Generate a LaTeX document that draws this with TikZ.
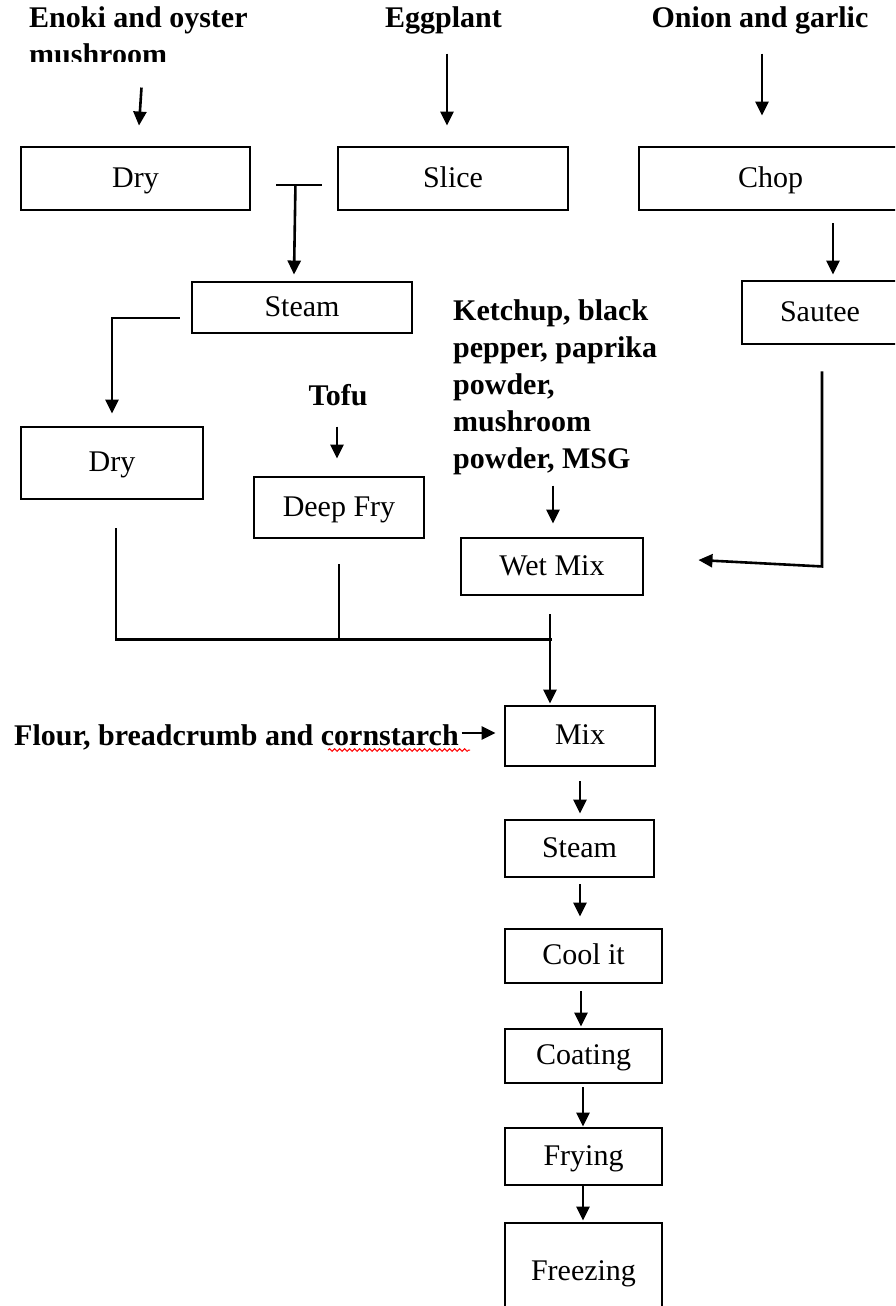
\documentclass[tikz,border=0pt]{standalone}
\usepackage{fontspec}
\setmainfont{Liberation Serif}
\usetikzlibrary{arrows.meta,calc,decorations.pathmorphing}
\begin{document}
\begin{tikzpicture}[x=1pt,y=-1pt,
  box/.style={draw, line width=2.9pt, inner sep=0pt, text height=21pt, text depth=4pt,
    font=\fontsize{30}{37}\selectfont},
  lbl/.style={inner sep=0pt, font=\fontsize{30}{37}\selectfont\bfseries, align=left},
  ln/.style={line width=2.6pt},
  arr/.style={ln, -{Triangle[length=14pt,width=13pt]}},
]
\useasboundingbox (0,0) rectangle (895,1306);
\clip (0,0) rectangle (895,1306);

% boxes
\node[box, minimum width=229pt, minimum height=63pt] (dry1) at (135.5,178.5) {Dry};
\node[box, minimum width=230pt, minimum height=63pt] (slice) at (453,178.5) {Slice};
\node[box, minimum width=263pt, minimum height=63pt] (chop) at (770.5,178.5) {Chop};
\node[box, minimum width=156pt, minimum height=63pt] (sautee) at (820,312.5) {Sautee};
\node[box, minimum width=220pt, minimum height=51pt] (steam1) at (302,307.5) {Steam};
\node[box, minimum width=182pt, minimum height=72pt] (dry2) at (112,463) {Dry};
\node[box, minimum width=170pt, minimum height=61pt] (deepfry) at (339,507.5) {Deep Fry};
\node[box, minimum width=182pt, minimum height=57pt] (wetmix) at (552,566.5) {Wet Mix};
\node[box, minimum width=150pt, minimum height=60pt] (mix) at (580,736) {Mix};
\node[box, minimum width=149pt, minimum height=57pt] (steam2) at (579.5,848.5) {Steam};
\node[box, minimum width=157pt, minimum height=54pt] (coolit) at (583.5,956) {Cool it};
\node[box, minimum width=157pt, minimum height=54pt] (coating) at (583.5,1056) {Coating};
\node[box, minimum width=157pt, minimum height=57pt] (frying) at (583.5,1156.5) {Frying};
\node[box, minimum width=157pt, minimum height=98pt] (freezing) at (583.5,1272) {Freezing};

% labels
\begin{scope}
\clip (0,0) rectangle (330,62);
\node[lbl, anchor=base west] (enoki) at (29,65) {Enoki and oyster\\mushroom};
\end{scope}
\node[lbl, anchor=base] (eggplant) at (443.5,28) {Eggplant};
\node[lbl, anchor=base] (onion) at (760,28) {Onion and garlic};
\node[lbl, anchor=base] (tofu) at (338,405) {Tofu};
\node[lbl, anchor=base west] (ketchup) at (453,468) {Ketchup, black\\pepper, paprika\\powder,\\mushroom\\powder, MSG};
\node[lbl, anchor=base west] (flour) at (14,745) {Flour, breadcrumb and cornstarch};
\draw[red, line width=1pt, decorate, decoration={snake, segment length=5pt, amplitude=1.3pt}]
  (328,750) -- (470,750);

% connectors
\draw[arr] ($(dry1.north)+(6,-58)$) -- ($(dry1.north)+(3.5,-20)$);
\draw[arr] ($(slice.north)+(-6,-92)$) -- ($(slice.north)+(-6,-20)$);
\draw[arr] ($(chop.north)+(-8.5,-92)$) -- ($(chop.north)+(-8.5,-30)$);
\draw[arr] ($(chop.south)+(62.5,12)$) -- ($(sautee.north)+(13,-5)$);
\draw[ln] ($(dry1.east)+(25,6.5)$) -- ($(slice.west)+(-15,6.5)$);
\draw[arr] ($(dry1.east)+(44,6.5)$) -- ($(steam1.north)+(-8,-6)$);
\draw[arr] ($(steam1.west)+(-11,10.5)$) -| ($(dry2.north)+(0,-12)$);
\draw[arr] ($(deepfry.north)+(-2,-49)$) -- ($(deepfry.north)+(-2,-17)$);
\coordinate (join) at ($(wetmix.south)+(0,43)$);
\draw[ln] ($(dry2.south)+(4,28)$) |- (join);
\draw[ln] ($(deepfry.south)+(0,25)$) -- ($(deepfry.south)+(0,100)$);
\draw[arr] ($(wetmix.north)+(1,-51)$) -- ($(wetmix.north)+(1,-13)$);
\draw[arr] ($(wetmix.south)+(-2,18)$) -- ($(mix.north)+(-30,-1)$);
\draw[arr] ($(sautee.south)+(2,26)$) -- ($(sautee.south)+(2,221)$) -- ($(wetmix.east)+(54,-6.5)$);
\draw[arr] ($(mix.west)+(-42,-3)$) -- ($(mix.west)+(-8,-3)$);
\draw[arr] ($(mix.south)+(0,14)$) -- ($(steam2.north)+(0.5,-5)$);
\draw[arr] ($(steam2.south)+(0.5,6)$) -- ($(coolit.north)+(-3.5,-11)$);
\draw[arr] ($(coolit.south)+(-2.5,7)$) -- ($(coating.north)+(-2.5,-1)$);
\draw[arr] ($(coating.south)+(-0.5,3)$) -- ($(frying.north)+(-0.5,0)$);
\draw[arr] ($(frying.south)+(-0.5,0)$) -- ($(freezing.north)+(-0.5,-1)$);
\end{tikzpicture}
\end{document}
